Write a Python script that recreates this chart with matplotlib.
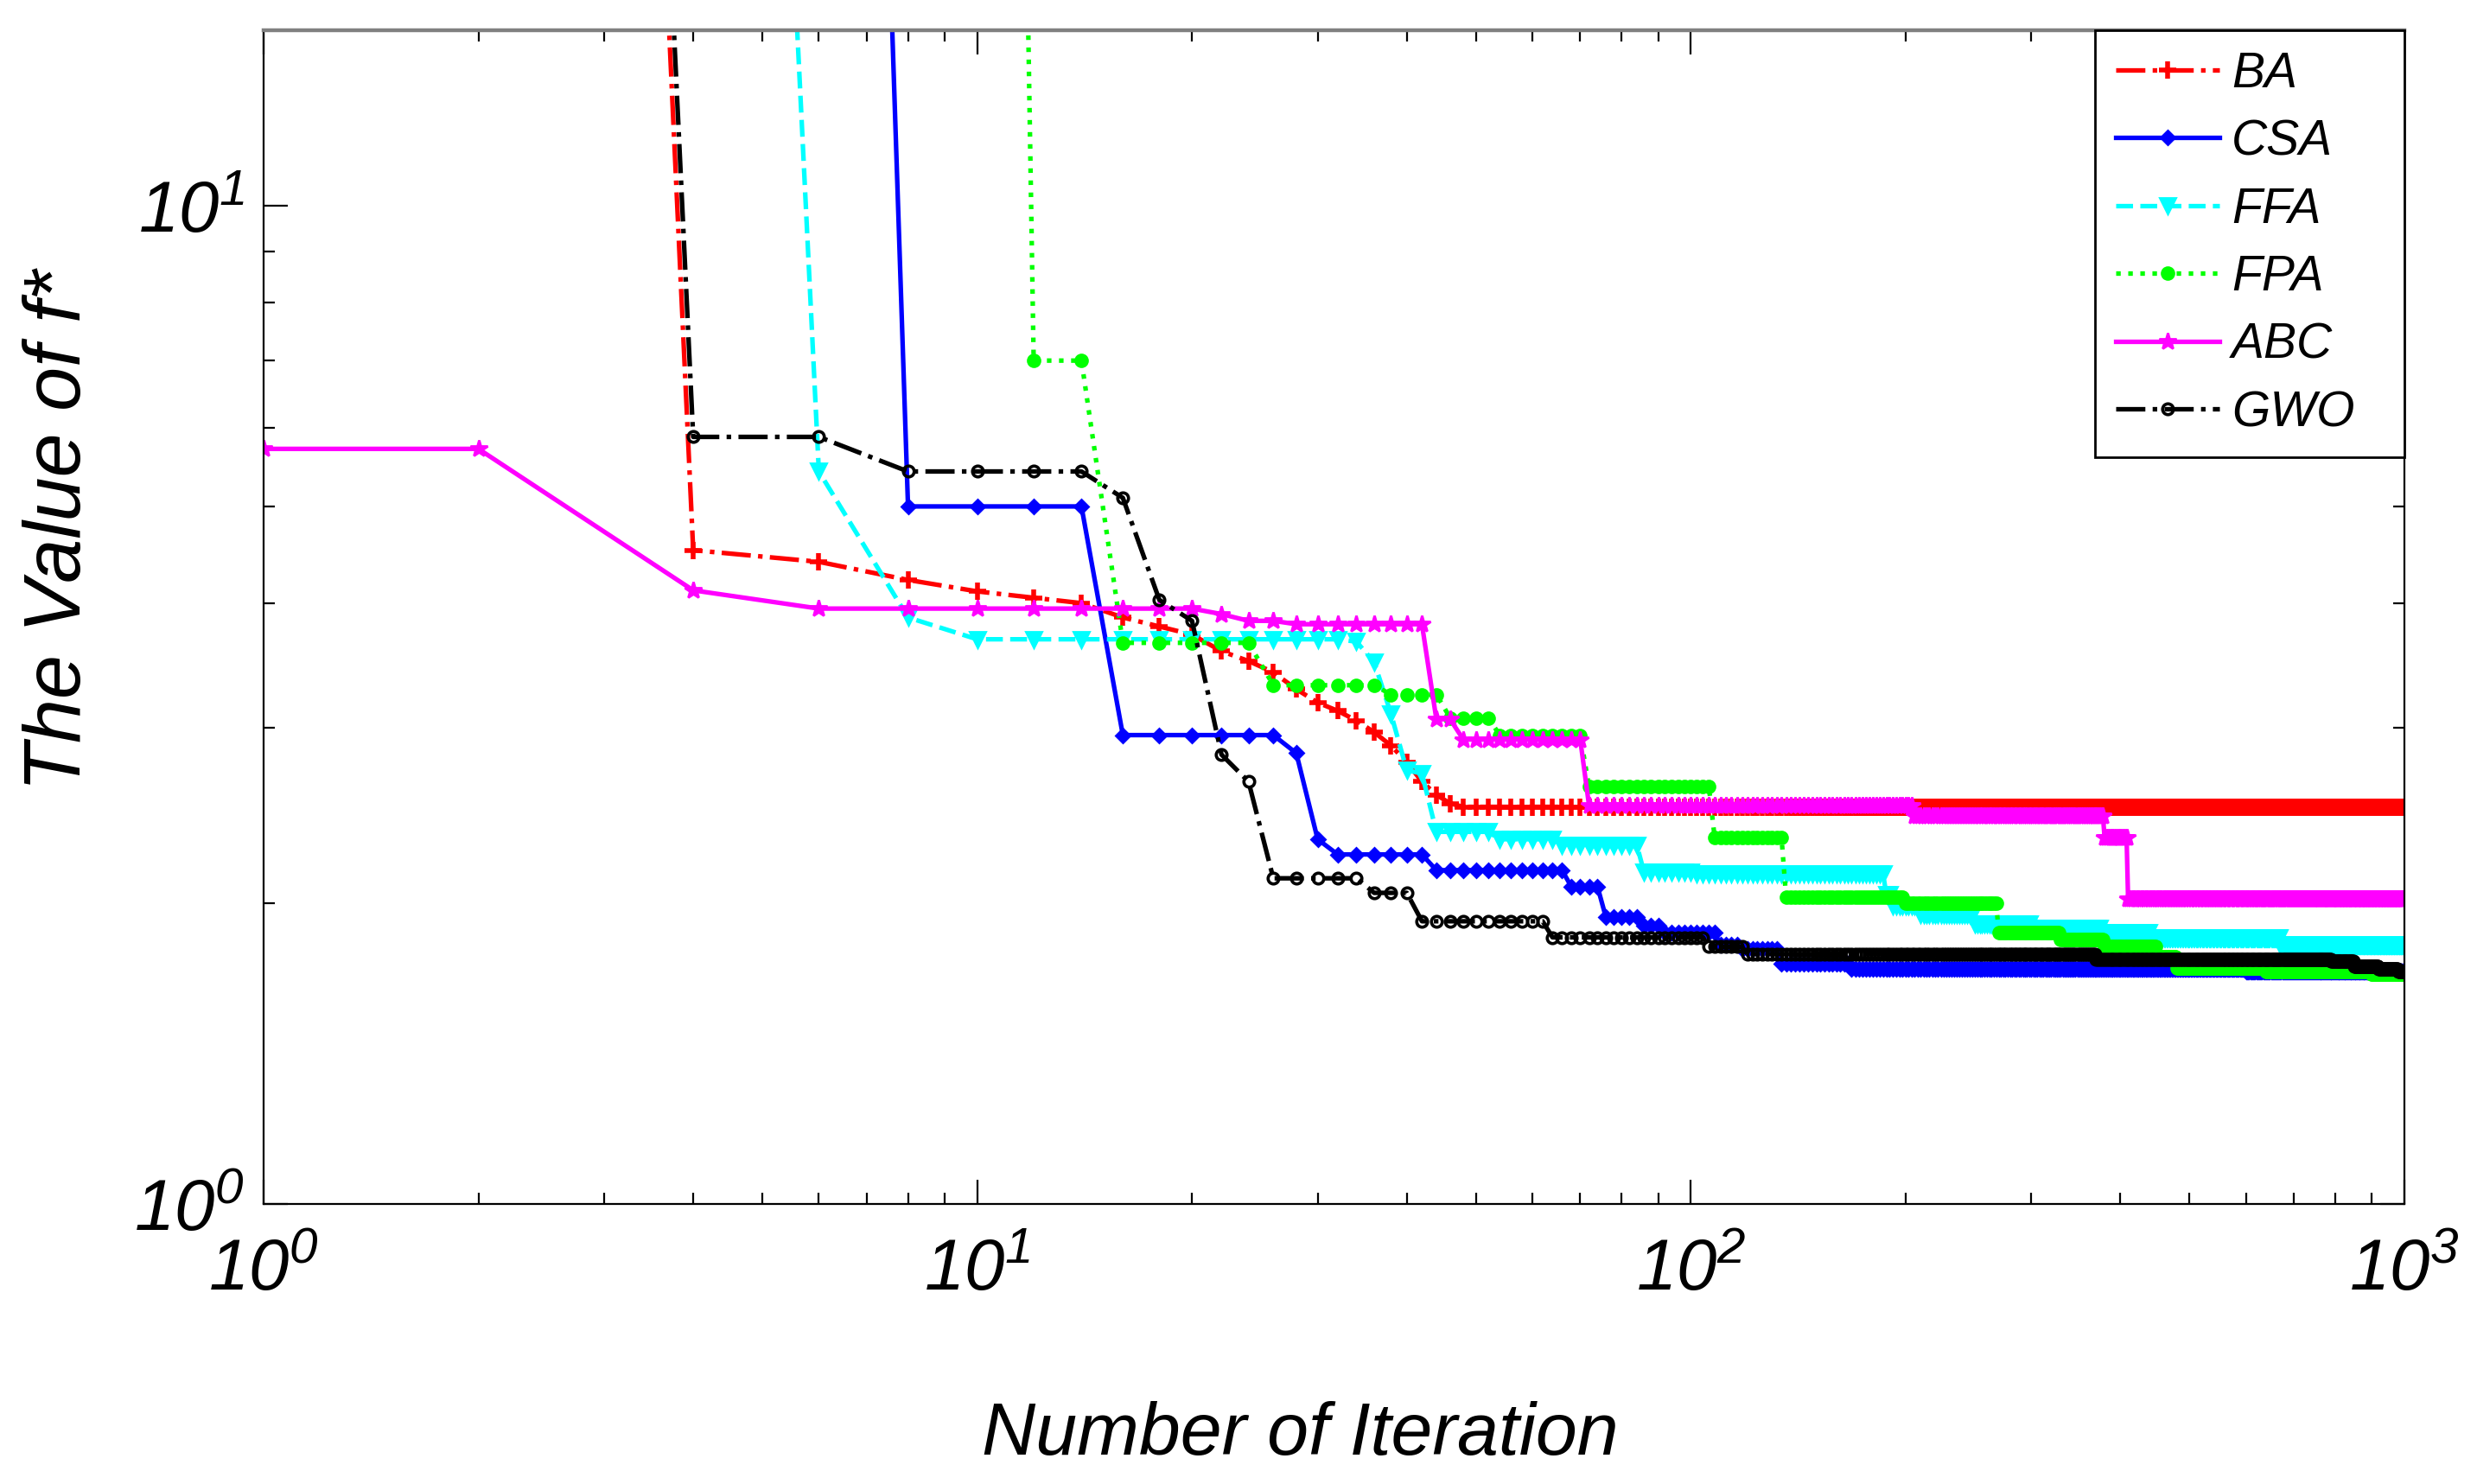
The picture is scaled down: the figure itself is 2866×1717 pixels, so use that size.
import numpy as np
import matplotlib
matplotlib.use("Agg")
import matplotlib.pyplot as plt
from matplotlib import font_manager
from matplotlib.ticker import NullFormatter, LogLocator

# iterations that carry a recorded point (1, then every 2nd one)
iters = np.array([1] + list(range(2, 1001, 2)))

# best-so-far values: iteration where a new value starts, and that value
ba_it = [1, 4, 6, 8, 10, 12, 14, 16, 18, 20, 22, 24, 26, 28, 30, 32, 34, 36, 38, 40, 42, 44, 46, 48]
ba_f = [2.0e5, 4.52, 4.40, 4.22, 4.11, 4.05, 4.00, 3.87, 3.79, 3.72, 3.58, 3.50, 3.41, 3.28,
        3.18, 3.12, 3.05, 2.97, 2.88, 2.77, 2.65, 2.57, 2.52, 2.50]

csa_it = [1, 6, 8, 16, 28, 30, 32, 44, 68, 76, 86, 92, 110, 118, 134, 168, 600]
csa_f = [3000, 2500, 5.0, 2.95, 2.83, 2.32, 2.24, 2.16, 2.08, 1.94, 1.90, 1.87, 1.82, 1.80,
         1.74, 1.72, 1.71]

ffa_it = [1, 6, 8, 10, 34, 36, 38, 40, 42, 44, 54, 66, 86, 102, 188, 192, 210, 250, 300, 376, 440, 670]
ffa_f = [2000, 5.42, 3.87, 3.68, 3.66, 3.49, 3.10, 2.72, 2.70, 2.36, 2.32, 2.29, 2.15, 2.14,
         2.04, 1.99, 1.95, 1.91, 1.89, 1.87, 1.85, 1.82]

fpa_it = [1, 12, 16, 26, 38, 46, 54, 72, 108, 136, 200, 270, 330, 380, 450, 480, 640, 900]
fpa_f = [2.0e4, 7.0, 3.65, 3.31, 3.24, 3.07, 2.95, 2.62, 2.33, 2.03, 2.00, 1.87, 1.84, 1.81,
         1.77, 1.725, 1.71, 1.70]

abc_it = [1, 4, 6, 22, 24, 28, 44, 48, 72, 206, 380, 410]
abc_f = [5.71, 4.12, 3.95, 3.90, 3.84, 3.81, 3.06, 2.92, 2.51, 2.45, 2.33, 2.02]

gwo_it = [1, 4, 8, 16, 18, 20, 22, 24, 26, 36, 42, 64, 106, 120, 370, 790, 850, 920, 980]
gwo_f = [2.0e5, 5.87, 5.42, 5.10, 4.03, 3.84, 2.82, 2.65, 2.12, 2.05, 1.92, 1.85, 1.81, 1.78,
         1.76, 1.75, 1.73, 1.72, 1.71]


def expand(change_it, change_f):
    # hold each value until the next change point
    idx = np.searchsorted(np.array(change_it), iters, side="right") - 1
    return np.array(change_f)[idx]


names = {f.name for f in font_manager.fontManager.ttflist}
narrow = "Liberation Sans Narrow" if "Liberation Sans Narrow" in names else "Liberation Sans"

plt.rcParams["font.family"] = ["Liberation Sans", "DejaVu Sans"]
plt.rcParams["mathtext.fontset"] = "custom"
plt.rcParams["mathtext.it"] = narrow + ":italic"
plt.rcParams["mathtext.rm"] = narrow + ":italic"
plt.rcParams["mathtext.default"] = "it"

fig = plt.figure(figsize=(14.33, 8.585), dpi=200)
ax = fig.add_axes([0.1064, 0.1887, 0.8643, 0.7909])

series = [
    ("BA", ba_it, ba_f, "#FF0000", "-.", "+", dict(ms=7, mew=2.0)),
    ("CSA", csa_it, csa_f, "#0000FF", "-", "D", dict(ms=4.2)),
    ("FFA", ffa_it, ffa_f, "#00FFFF", "--", "v", dict(ms=6.5)),
    ("FPA", fpa_it, fpa_f, "#00FF00", ":", "o", dict(ms=5)),
    ("ABC", abc_it, abc_f, "#FF00FF", "-", "*", dict(ms=7.5)),
    ("GWO", gwo_it, gwo_f, "#000000", "-.", "o", dict(ms=4.5, mfc="none", mew=1.3)),
]

for name, c_it, c_f, col, ls, mk, mkw in series:
    ax.loglog(iters, expand(c_it, c_f), color=col, linestyle=ls, marker=mk,
              linewidth=1.9, label=name, **mkw)

ax.set_xlim(1, 1000)
ax.set_ylim(1, 15)

ax.xaxis.set_minor_locator(LogLocator(base=10, subs=range(2, 10)))
ax.yaxis.set_minor_locator(LogLocator(base=10, subs=range(2, 10)))
ax.xaxis.set_minor_formatter(NullFormatter())
ax.yaxis.set_minor_formatter(NullFormatter())
ax.set_xticks([1, 10, 100, 1000])
ax.set_xticklabels([r"$10^{0}$", r"$10^{1}$", r"$10^{2}$", r"$10^{3}$"])
ax.set_yticks([1, 10])
ax.set_yticklabels([r"$10^{0}$", r"$10^{1}$"])

ax.tick_params(which="both", direction="in", top=True, right=True, width=0.8)
ax.tick_params(which="major", length=10, labelsize=30)
ax.tick_params(which="minor", length=4.7)
ax.tick_params(axis="x", which="major", pad=14)
ax.tick_params(axis="y", which="major", pad=8)

for s in ["left", "bottom", "right"]:
    ax.spines[s].set_linewidth(0.8)
ax.spines["top"].set_color("#808080")
ax.spines["top"].set_linewidth(1.6)

ax.set_xlabel("Number of Iteration", family=narrow, style="italic", fontsize=31)
ax.xaxis.set_label_coords(0.484, -0.168)
ax.xaxis.label.set_va("top")
ax.set_ylabel("The Value of f*", style="italic", fontsize=33)
ax.yaxis.set_label_coords(-0.078, 0.574)

leg = ax.legend(loc="upper right", bbox_to_anchor=(0.8555, 0, 0.1445, 1.0), mode="expand",
                borderaxespad=0, fancybox=False, framealpha=1, edgecolor="black",
                numpoints=1, handlelength=2.1, handletextpad=0.25, labelspacing=0.43,
                borderpad=0.42, prop=dict(family=narrow, style="italic", size=20.5))
leg.get_frame().set_linewidth(1.0)

fig.savefig("out.png", dpi=200)
